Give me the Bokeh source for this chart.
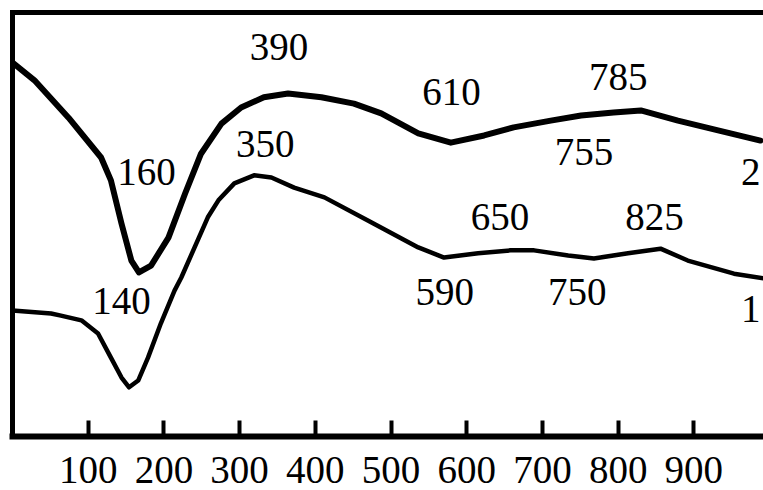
from bokeh.plotting import figure
from bokeh.models import LinearAxis, FixedTicker, Range1d
from bokeh.core.properties import value
from bokeh.embed import file_html
from bokeh.resources import INLINE

# Curve 1 (lower trace): temperature (deg C) vs signal (arbitrary units)
temp_1 = [0, 51, 64, 91, 113, 130, 144, 154, 166, 179, 196, 214, 223, 258, 272,
          293, 319, 342, 372, 412, 470, 536, 570, 615, 658, 689, 734, 768, 813,
          856, 892, 953, 992]
dta_1 = [29.7, 29.0, 28.5, 27.4, 24.3, 18.6, 13.9, 11.6, 13.2, 18.6, 26.7, 34.4,
         37.5, 51.7, 55.7, 59.7, 61.6, 61.1, 58.7, 56.4, 50.9, 44.6, 42.2, 43.2,
         43.9, 43.9, 42.7, 42.0, 43.2, 44.3, 41.5, 38.4, 37.3]

# Curve 2 (upper trace)
temp_2 = [0, 29, 74, 117, 130, 144, 157, 167, 183, 206, 228, 249, 276, 302, 332,
          364, 408, 451, 487, 536, 579, 623, 662, 711, 751, 794, 830, 879, 932, 988]
dta_2 = [88.2, 84.0, 75.2, 65.8, 60.4, 50.2, 41.5, 38.7, 40.3, 46.9, 57.3, 66.7,
         73.8, 77.6, 80.0, 80.9, 80.0, 78.5, 76.2, 71.5, 69.3, 71.0, 72.9, 74.5,
         75.7, 76.4, 76.9, 74.5, 72.2, 69.8]

# Peak annotations
peak_labels = ["390", "160", "350", "140", "610", "785", "755", "2",
               "650", "825", "590", "750", "1"]
peak_x = [352, 177, 334, 144, 580, 800, 755, 975, 644, 848, 571, 746, 975]
peak_y = [88.2, 58.5, 65.1, 28.1, 77.4, 81.1, 63.4, 58.7, 47.9, 47.9, 30.4, 30.4, 26.2]

tick_values = [100, 200, 300, 400, 500, 600, 700, 800, 900]

SERIF = "Times New Roman"

p = figure(width=763, height=490, output_backend="svg", toolbar_location=None,
           x_range=Range1d(0, 992), y_range=Range1d(0, 100),
           min_border_left=12, min_border_right=0, min_border_top=12, min_border_bottom=54)
p.grid.visible = False
p.outline_line_color = None
p.background_fill_color = "white"
p.border_fill_color = "white"

xa = p.xaxis[0]
xa.ticker = FixedTicker(ticks=tick_values)
xa.axis_line_width = 6
xa.axis_line_color = "black"
xa.axis_line_cap = "square"
xa.major_tick_in = 16
xa.major_tick_out = 0
xa.major_tick_line_width = 4
xa.major_tick_line_color = "black"
xa.minor_tick_line_color = None
xa.major_label_text_font = SERIF
xa.major_label_text_font_size = "39px"
xa.major_label_text_color = "black"
xa.major_label_standoff = 20

def frame_axis(ax):
    ax.ticker = FixedTicker(ticks=[])
    ax.axis_line_width = 5
    ax.axis_line_color = "black"
    ax.axis_line_cap = "square"
    ax.major_tick_in = 0
    ax.major_tick_out = 0
    ax.minor_tick_line_color = None
    ax.major_tick_line_color = None
    ax.major_label_text_font_size = "0px"
    ax.major_label_standoff = 0

frame_axis(p.yaxis[0])
top_axis = LinearAxis()
frame_axis(top_axis)
p.add_layout(top_axis, "above")

p.line(temp_2, dta_2, line_width=6, line_color="black", line_join="round", line_cap="round")
p.line(temp_1, dta_1, line_width=4.5, line_color="black", line_join="round", line_cap="round")

p.text(x=peak_x, y=peak_y, text=peak_labels,
       text_font=value(SERIF), text_font_size=value("39px"),
       text_align="center", text_baseline="alphabetic", text_color="black",
       y_offset=-16)

open("out.html", "w").write(file_html(p, INLINE))
